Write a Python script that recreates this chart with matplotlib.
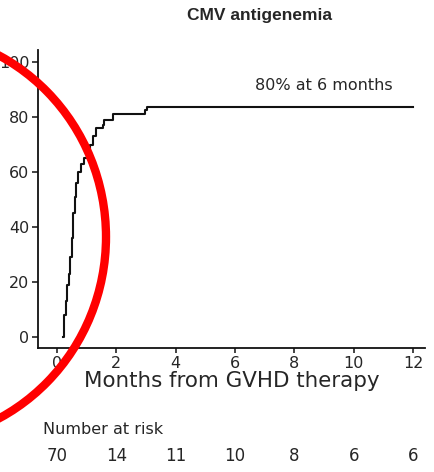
import matplotlib
matplotlib.use('Agg')
import matplotlib.pyplot as plt
from matplotlib.patches import Ellipse
from matplotlib.transforms import blended_transform_factory

# cumulative incidence of CMV antigenemia (%), step function
months = [0.2, 0.25, 0.3, 0.35, 0.4, 0.45, 0.5, 0.55, 0.6, 0.65, 0.7,
          0.8, 0.9, 1.0, 1.1, 1.2, 1.3, 1.55, 1.6, 1.9, 2.95, 3.05, 12.0]
incidence = [0, 8, 13, 19, 23, 29, 36, 45, 51, 56, 60,
             63, 65, 68, 70, 73, 76, 77, 79, 81, 82.5, 83.6, 83.6]

risk_months = [0, 2, 4, 6, 8, 10, 12]
at_risk = [70, 14, 11, 10, 8, 6, 6]

x_ticks = [0, 2, 4, 6, 8, 10, 12]
y_ticks = [0, 20, 40, 60, 80, 100]

plt.rcParams['font.family'] = ['DejaVu Sans']
text_color = '#262626'

fig = plt.figure(figsize=(4.34, 4.72), dpi=100)
ax = fig.add_axes([0.0876, 0.263, 0.8914, 0.631])

ax.step(months, incidence, where='post', color='#111111', lw=1.5)

ax.set_xlim(-0.64, 12.4)
ax.set_ylim(-4, 104.4)
ax.set_xticks(x_ticks)
ax.set_yticks(y_ticks)
ax.tick_params(axis='both', direction='out', width=1.1, colors='#111111',
               labelcolor=text_color, labelsize=11.5)
ax.tick_params(axis='y', length=4.3, pad=2)
ax.tick_params(axis='x', length=3.6, pad=2)

for side in ['top', 'right']:
    ax.spines[side].set_visible(False)
for side in ['left', 'bottom']:
    ax.spines[side].set_linewidth(1.3)
    ax.spines[side].set_color('#111111')

ax.set_xlabel('Months from GVHD therapy', fontsize=15.4, color=text_color,
              labelpad=0)

ax.text(9.0, 91.6, '80% at 6 months', fontsize=11.5, color=text_color,
        ha='center', va='center')

fig.text(0.597, 0.968, 'CMV antigenemia', fontsize=12.5,
         fontweight='bold', color=text_color, ha='center', va='center',
         family=['Liberation Sans', 'DejaVu Sans'])

# number at risk table below the x axis
fig.text(0.099, 0.091, 'Number at risk', fontsize=11.5, color=text_color,
         ha='left', va='center')
risk_trans = blended_transform_factory(ax.transData, fig.transFigure)
for m, n in zip(risk_months, at_risk):
    ax.text(m, 0.034, str(n), fontsize=12, color=text_color, ha='center',
            va='center', transform=risk_trans, clip_on=False)

# red marker circle around the early rise
ring = Ellipse((-0.2166, 0.498), 0.9217, 0.8686, transform=fig.transFigure,
               fill=False, edgecolor='#ff0000', lw=6, clip_on=False)
fig.add_artist(ring)

fig.savefig('out.png', dpi=100)
